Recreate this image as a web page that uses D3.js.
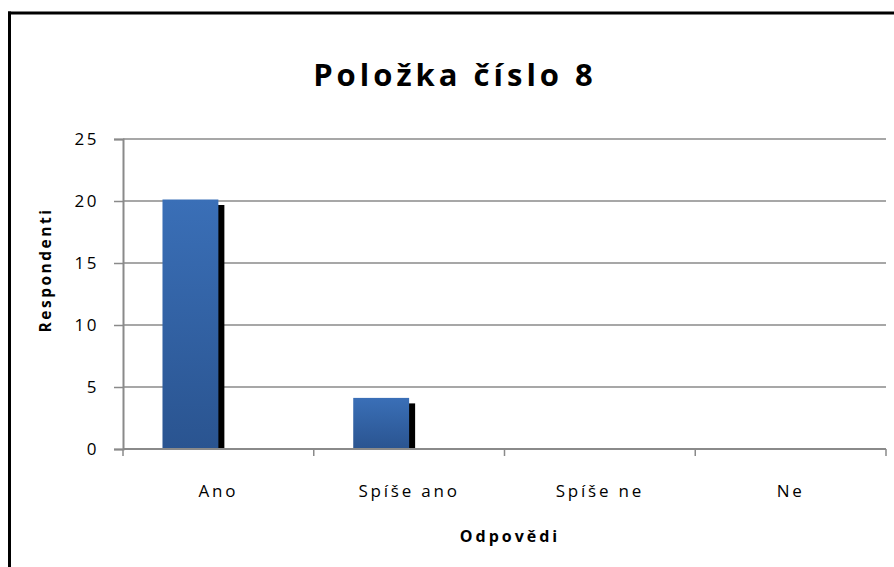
<!DOCTYPE html>
<html>
<head>
<meta charset="utf-8">
<script src="https://cdn.jsdelivr.net/npm/d3@7"></script>
<style>
  body { margin: 0; background: #fff; }
  text { font-family: "Open Sans", "DejaVu Sans", sans-serif; }
</style>
</head>
<body>
<div id="chart"></div>
<script>
// data
const categories = ["Ano", "Spíše ano", "Spíše ne", "Ne"];
const respondents = [20, 4, 0, 0];
const yTicks = [0, 5, 10, 15, 20, 25];

const width = 894;
const height = 567;
const margin = { top: 139, right: 8, bottom: 118, left: 123 };

const svg = d3.select("#chart").append("svg")
    .attr("width", width)
    .attr("height", height)
    .style("background", "white");

// frame of the chart object (only left and top edges are visible)
svg.append("line").attr("x1", 9.5).attr("x2", 9.5).attr("y1", 11.5).attr("y2", height)
    .attr("stroke", "black").attr("stroke-width", 3);
svg.append("line").attr("x1", 8).attr("x2", width).attr("y1", 13).attr("y2", 13)
    .attr("stroke", "black").attr("stroke-width", 3);

const x = d3.scaleBand()
    .domain(categories)
    .range([margin.left, width - margin.right]);

const y = d3.scaleLinear()
    .domain([0, 25])
    .range([height - margin.bottom, margin.top]);

// gradient for the bars
const defs = svg.append("defs");
const grad = defs.append("linearGradient")
    .attr("id", "barGrad")
    .attr("x1", 0).attr("y1", 0).attr("x2", 0).attr("y2", 1);
grad.append("stop").attr("offset", "0%").attr("stop-color", "#3a6fb7");
grad.append("stop").attr("offset", "100%").attr("stop-color", "#2a5490");

// gridlines
svg.append("g")
    .selectAll("line")
    .data(yTicks.filter(d => d > 0))
    .join("line")
    .attr("x1", margin.left)
    .attr("x2", width - margin.right)
    .attr("y1", d => y(d))
    .attr("y2", d => y(d))
    .attr("stroke", "#8a8a8a")
    .attr("stroke-width", 1.5);

// bars: right edge sits on the category centre, with a black shadow
const barWidth = x.bandwidth() * 0.293;
const bars = svg.append("g");
categories.forEach((c, i) => {
    const v = respondents[i];
    if (v <= 0) return;
    const bx = x(c) + x.bandwidth() / 2 - barWidth;
    bars.append("rect")
        .attr("x", bx + 6)
        .attr("y", y(v) + 4)
        .attr("width", barWidth)
        .attr("height", y(0) - y(v) - 4)
        .attr("fill", "black");
    bars.append("rect")
        .attr("x", bx)
        .attr("y", y(v) - 1.5)
        .attr("width", barWidth)
        .attr("height", y(0) - y(v) + 1.5)
        .attr("fill", "url(#barGrad)");
});

// y axis
const yAxis = svg.append("g")
    .attr("transform", `translate(${margin.left},0)`)
    .call(d3.axisLeft(y).tickValues(yTicks).tickSize(9).tickPadding(15));
yAxis.select(".domain").attr("stroke", "#8a8a8a").attr("stroke-width", 2);
yAxis.selectAll(".tick line").attr("stroke", "#8a8a8a").attr("stroke-width", 1.5);
yAxis.selectAll(".tick text")
    .attr("font-size", "17px")
    .attr("fill", "#000")
    .attr("letter-spacing", "2.5px")
    .style("font-family", "'Open Sans', sans-serif");

// x axis: ticks between categories
const xAxisG = svg.append("g")
    .attr("transform", `translate(0,${y(0)})`);
xAxisG.append("line")
    .attr("x1", margin.left).attr("x2", width - margin.right)
    .attr("y1", 0).attr("y2", 0)
    .attr("stroke", "#8a8a8a").attr("stroke-width", 2);
const bounds = categories.map(c => x(c)).concat([x.range()[1]]);
xAxisG.selectAll(".xt")
    .data(bounds)
    .join("line")
    .attr("class", "xt")
    .attr("x1", d => d).attr("x2", d => d)
    .attr("y1", 0).attr("y2", 7)
    .attr("stroke", "#8a8a8a").attr("stroke-width", 1.5);
xAxisG.selectAll(".xl")
    .data(categories)
    .join("text")
    .attr("class", "xl")
    .attr("x", d => x(d) + x.bandwidth() / 2)
    .attr("y", 48)
    .attr("text-anchor", "middle")
    .attr("font-size", "17px")
    .attr("letter-spacing", "2.8px")
    .text(d => d);

// title
svg.append("text")
    .attr("x", 455)
    .attr("y", 86)
    .attr("text-anchor", "middle")
    .attr("font-size", "31px")
    .attr("font-weight", "bold")
    .attr("letter-spacing", "4px")
    .text("Položka číslo 8");

// axis titles
svg.append("text")
    .attr("x", 510)
    .attr("y", 542)
    .attr("text-anchor", "middle")
    .attr("font-size", "16px")
    .attr("font-weight", "bold")
    .attr("letter-spacing", "3px")
    .text("Odpovědi");

svg.append("text")
    .attr("transform", "translate(51,270) rotate(-90)")
    .attr("text-anchor", "middle")
    .attr("font-size", "15.5px")
    .attr("font-weight", "bold")
    .attr("letter-spacing", "2.5px")
    .text("Respondenti");
</script>
</body>
</html>
